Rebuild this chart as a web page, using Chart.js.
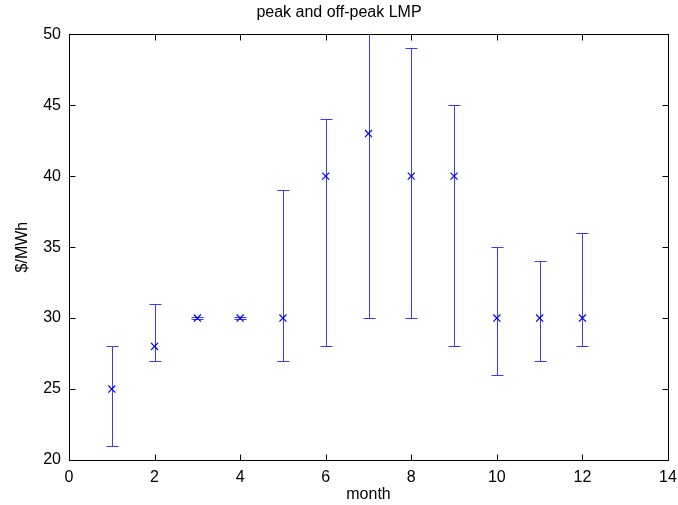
<!DOCTYPE html>
<html>
<head>
<meta charset="utf-8">
<script src="https://cdn.jsdelivr.net/npm/chart.js@4.4.1/dist/chart.umd.min.js"></script>
<style>
  html, body { margin: 0; padding: 0; background: #fff; }
</style>
</head>
<body>
<canvas id="lmpChart" width="678" height="505"></canvas>
<script>
// data
const months    = [1, 2, 3, 4, 5, 6, 7, 8, 9, 10, 11, 12];
const avgPrice  = [25, 28, 30, 30, 30, 40, 43, 40, 40, 30, 30, 30];
const lowPrice  = [21, 27, 29.9, 29.9, 27, 28, 30, 30, 28, 26, 27, 28];
const highPrice = [28, 31, 30.1, 30.1, 39, 44, 50, 49, 45, 35, 34, 36];
const xTicks = [0, 2, 4, 6, 8, 10, 12, 14];
const yTicks = [20, 25, 30, 35, 40, 45, 50];

const FONT = "'Liberation Sans', Arial, Helvetica, sans-serif";

// error bars, drawn with the chart scales
const errorBars = {
  id: 'errorBars',
  beforeDatasetsDraw(chart) {
    const { ctx, scales: { x, y } } = chart;
    ctx.save();
    ctx.strokeStyle = '#3a3aff';
    ctx.lineWidth = 1;
    months.forEach((m, i) => {
      const px = Math.round(x.getPixelForValue(m)) + 0.5;
      const lo = Math.round(y.getPixelForValue(lowPrice[i])) + 0.5;
      const hi = Math.round(y.getPixelForValue(highPrice[i])) + 0.5;
      ctx.beginPath();
      ctx.moveTo(px, lo); ctx.lineTo(px, hi);
      ctx.moveTo(px - 6, lo); ctx.lineTo(px + 6, lo);
      ctx.moveTo(px - 6, hi); ctx.lineTo(px + 6, hi);
      ctx.stroke();
    });
    ctx.restore();
  }
};

// box round the plot with inward ticks on every side
const frame = {
  id: 'frame',
  afterDraw(chart) {
    const { ctx, chartArea: a, scales: { x, y } } = chart;
    const L = Math.round(a.left) + 0.5, R = Math.round(a.right) + 0.5;
    const T = Math.round(a.top) + 0.5, B = Math.round(a.bottom) + 0.5;
    ctx.save();
    ctx.strokeStyle = '#000';
    ctx.lineWidth = 1;
    ctx.strokeRect(L, T, R - L, B - T);
    ctx.beginPath();
    xTicks.forEach(v => {
      const px = Math.round(x.getPixelForValue(v)) + 0.5;
      ctx.moveTo(px, B); ctx.lineTo(px, B - 6);
      ctx.moveTo(px, T); ctx.lineTo(px, T + 6);
    });
    yTicks.forEach(v => {
      const py = Math.round(y.getPixelForValue(v)) + 0.5;
      ctx.moveTo(L, py); ctx.lineTo(L + 6, py);
      ctx.moveTo(R, py); ctx.lineTo(R - 6, py);
    });
    ctx.stroke();
    ctx.restore();
  }
};

new Chart(document.getElementById('lmpChart'), {
  type: 'scatter',
  data: {
    datasets: [{
      label: 'LMP',
      data: months.map((m, i) => ({ x: m, y: avgPrice[i] })),
      pointStyle: 'crossRot',
      pointRadius: 5,
      pointHoverRadius: 5,
      borderColor: '#0000ff',
      backgroundColor: '#0000ff',
      borderWidth: 1.2,
      clip: false
    }]
  },
  options: {
    responsive: false,
    animation: false,
    devicePixelRatio: 1,
    layout: { padding: { left: 0, right: 0, top: 0, bottom: 0 } },
    plugins: {
      legend: { display: false },
      tooltip: { enabled: false },
      title: {
        display: true,
        text: 'peak and off-peak LMP',
        color: '#000',
        font: { family: FONT, size: 16, weight: 'normal', lineHeight: 1.2 },
        padding: { top: 3, bottom: 12 }
      }
    },
    scales: {
      x: {
        type: 'linear',
        min: 0, max: 14,
        afterFit: s => { s.height = 45; s.paddingLeft = 0; s.paddingRight = 10; },
        afterBuildTicks: s => { s.ticks = xTicks.map(v => ({ value: v })); },
        grid: { display: false, drawTicks: false },
        border: { display: false },
        ticks: { color: '#000', padding: 8, maxRotation: 0, font: { family: FONT, size: 16 } },
        title: {
          display: true, text: 'month', color: '#000',
          font: { family: FONT, size: 16, lineHeight: 1.2 },
          padding: { top: 0, bottom: 1 }
        }
      },
      y: {
        type: 'linear',
        min: 20, max: 50,
        afterFit: s => { s.width = 69; s.paddingTop = 0; s.paddingBottom = 0; },
        afterBuildTicks: s => { s.ticks = yTicks.map(v => ({ value: v })); },
        grid: { display: false, drawTicks: false },
        border: { display: false },
        ticks: { color: '#000', padding: 8, font: { family: FONT, size: 16 } },
        title: {
          display: true, text: '$/MWh', color: '#000',
          font: { family: FONT, size: 16, lineHeight: 1.2 },
          padding: { top: 13, bottom: 0 }
        }
      }
    }
  },
  plugins: [errorBars, frame]
});
</script>
</body>
</html>
